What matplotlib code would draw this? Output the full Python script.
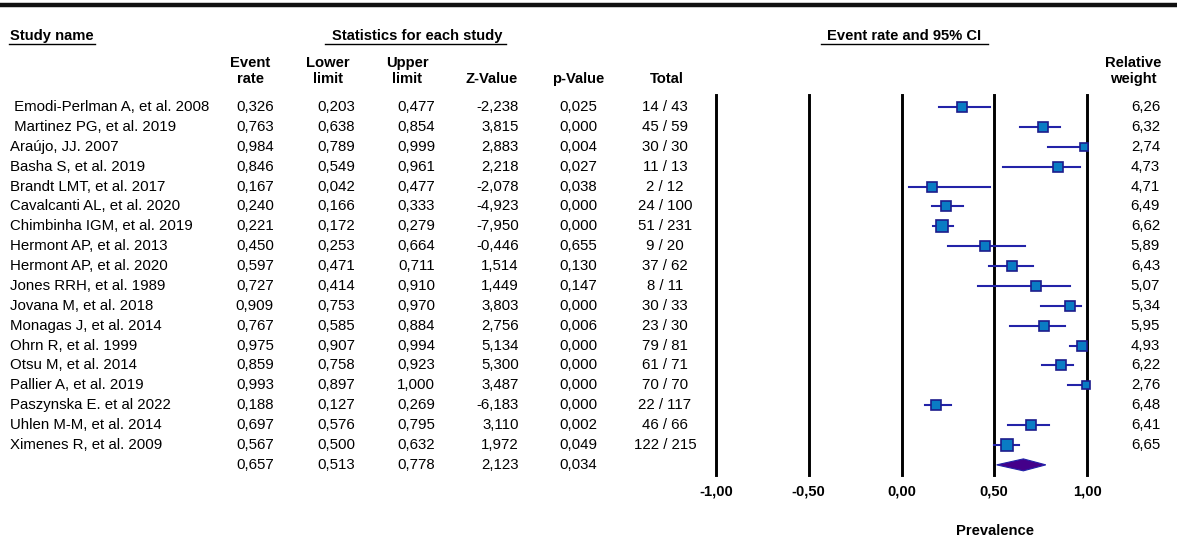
import matplotlib.pyplot as plt
from matplotlib.transforms import blended_transform_factory
from matplotlib.lines import Line2D

plt.rcParams['font.family'] = ['Liberation Sans', 'DejaVu Sans']

studies = [" Emodi-Perlman A, et al. 2008", " Martinez PG, et al. 2019", "Araújo, JJ. 2007",
           "Basha S, et al. 2019", "Brandt LMT, et al. 2017", "Cavalcanti AL, et al. 2020",
           "Chimbinha IGM, et al. 2019", "Hermont AP, et al. 2013", "Hermont AP, et al. 2020",
           "Jones RRH, et al. 1989", "Jovana M, et al. 2018", "Monagas J, et al. 2014",
           "Ohrn R, et al. 1999", "Otsu M, et al. 2014", "Pallier A, et al. 2019",
           "Paszynska E. et al 2022", "Uhlen M-M, et al. 2014", "Ximenes R, et al. 2009"]
rate = [0.326, 0.763, 0.984, 0.846, 0.167, 0.240, 0.221, 0.450, 0.597, 0.727, 0.909, 0.767,
        0.975, 0.859, 0.993, 0.188, 0.697, 0.567]
lower = [0.203, 0.638, 0.789, 0.549, 0.042, 0.166, 0.172, 0.253, 0.471, 0.414, 0.753, 0.585,
         0.907, 0.758, 0.897, 0.127, 0.576, 0.500]
upper = [0.477, 0.854, 0.999, 0.961, 0.477, 0.333, 0.279, 0.664, 0.711, 0.910, 0.970, 0.884,
         0.994, 0.923, 1.000, 0.269, 0.795, 0.632]
zval = [-2.238, 3.815, 2.883, 2.218, -2.078, -4.923, -7.950, -0.446, 1.514, 1.449, 3.803, 2.756,
        5.134, 5.300, 3.487, -6.183, 3.110, 1.972]
pval = [0.025, 0.000, 0.004, 0.027, 0.038, 0.000, 0.000, 0.655, 0.130, 0.147, 0.000, 0.006,
        0.000, 0.000, 0.000, 0.000, 0.002, 0.049]
events = [14, 45, 30, 11, 2, 24, 51, 9, 37, 8, 30, 23, 79, 61, 70, 22, 46, 122]
totals = [43, 59, 30, 13, 12, 100, 231, 20, 62, 11, 33, 30, 81, 71, 70, 117, 66, 215]
weight = [6.26, 6.32, 2.74, 4.73, 4.71, 6.49, 6.62, 5.89, 6.43, 5.07, 5.34, 5.95, 4.93, 6.22,
          2.76, 6.48, 6.41, 6.65]
pooled = [0.657, 0.513, 0.778, 2.123, 0.034]  # rate, lower, upper, z, p
ticks = [-1.0, -0.5, 0.0, 0.5, 1.0]

W, H = 1177, 543
fig = plt.figure(figsize=(W / 100, H / 100), dpi=100)

def fx(x):
    return x / W

def fy(y):
    return 1 - y / H

def num(v, d=3):
    return f"{v:.{d}f}".replace('.', ',')

fs = 10.8   # body text
fb = 10.6   # bold headers

# forest panel, -1..1 between px 716 and 1087
ax = fig.add_axes([fx(716), fy(475), fx(1087 - 716), (475 - 95) / H])
ax.set_xlim(-1, 1)
ax.set_ylim(18.51, -0.604)
for s in ax.spines.values():
    s.set_visible(False)
ax.set_yticks([])
ax.set_xticks(ticks)
ax.set_xticklabels([num(t, 2) for t in ticks], fontweight='bold', fontsize=fb)
ax.tick_params(axis='x', length=0, pad=7)
for t in ticks:
    ax.axvline(t, color='black', lw=2.1, zorder=1, clip_on=False)

n = len(studies)
for i in range(n):
    ax.plot([lower[i], upper[i]], [i, i], color='#2323a8', lw=1.5, zorder=2, clip_on=False)
    ax.plot(rate[i], i, marker='s', ms=3.1 * weight[i] ** 0.5, mfc='#0a7cc4', mec='#1c1c8c',
            mew=1.2, zorder=3, clip_on=False)

ax.fill([pooled[1], pooled[0], pooled[2], pooled[0]], [n, n - 0.3, n, n + 0.3],
        facecolor='#44008a', edgecolor='#2323a8', lw=0.8, zorder=3, clip_on=False)

tr = blended_transform_factory(fig.transFigure, ax.transData)
for i in range(n):
    fig.text(fx(10), i, studies[i], transform=tr, fontsize=fs, va='center', ha='left')
    fig.text(fx(274), i, num(rate[i]), transform=tr, fontsize=fs, va='center', ha='right')
    fig.text(fx(355), i, num(lower[i]), transform=tr, fontsize=fs, va='center', ha='right')
    fig.text(fx(435), i, num(upper[i]), transform=tr, fontsize=fs, va='center', ha='right')
    fig.text(fx(519), i, num(zval[i]), transform=tr, fontsize=fs, va='center', ha='right')
    fig.text(fx(597), i, num(pval[i]), transform=tr, fontsize=fs, va='center', ha='right')
    fig.text(fx(665), i, f"{events[i]} / {totals[i]}", transform=tr, fontsize=fs,
             va='center', ha='center')
    fig.text(fx(1160), i, num(weight[i], 2), transform=tr, fontsize=fs, va='center', ha='right')

for x, v in zip([274, 355, 435, 519, 597], pooled):
    fig.text(fx(x), n, num(v), transform=tr, fontsize=fs, va='center', ha='right')

# headers
fig.text(fx(10), fy(36), "Study name", fontsize=fb, fontweight='bold', va='center', ha='left')
fig.text(fx(417), fy(36), "Statistics for each study", fontsize=fb, fontweight='bold',
         va='center', ha='center')
fig.text(fx(904), fy(36), "Event rate and 95% CI", fontsize=fb, fontweight='bold',
         va='center', ha='center')
for x0, x1 in [(9, 95), (325, 506), (821, 988)]:
    fig.add_artist(Line2D([fx(x0), fx(x1)], [fy(44), fy(44)], color='black', lw=1.0))

for x, top, bot in [(250, "Event", "rate"), (328, "Lower", "limit"), (407, "Upper", "limit"),
                    (1133, "Relative", "weight")]:
    fig.text(fx(x), fy(63), top, fontsize=fb, fontweight='bold', va='center', ha='center')
    fig.text(fx(x), fy(79), bot, fontsize=fb, fontweight='bold', va='center', ha='center')
fig.text(fx(492), fy(79), "Z-Value", fontsize=fb, fontweight='bold', va='center', ha='center')
fig.text(fx(578), fy(79), "p-Value", fontsize=fb, fontweight='bold', va='center', ha='center')
fig.text(fx(667), fy(79), "Total", fontsize=fb, fontweight='bold', va='center', ha='center')
fig.text(fx(995), fy(531), "Prevalence", fontsize=fb, fontweight='bold', va='center', ha='center')

fig.add_artist(Line2D([0, 1], [fy(5), fy(5)], color='#111111', lw=3.2))

fig.savefig("out.png", dpi=100)
